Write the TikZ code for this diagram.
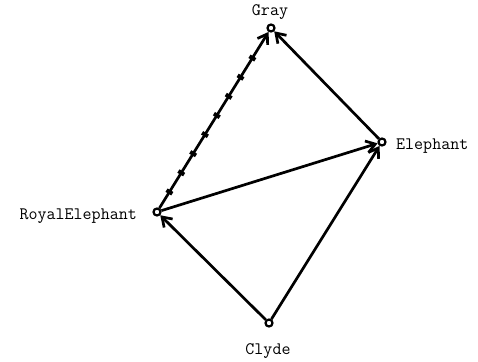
\documentclass[tikz,border=0pt]{standalone}
\usetikzlibrary{arrows.meta,decorations.markings}
\begin{document}
\begin{tikzpicture}[x=1pt,y=-1pt,
  vtx/.style={circle,draw,line width=2.2pt,inner sep=0pt,minimum size=7pt},
  lbl/.style={font=\fontsize{17.5}{20}\selectfont\ttfamily,inner sep=0pt},
  edge/.style={line width=2.7pt,-{Straight Barb[length=9pt,width=12pt]}},
  ticked/.style={postaction={decorate},decoration={markings,
    mark=between positions 19pt and 178pt step 22.5pt with {\draw[-,line width=4pt] (0pt,-3.4pt) -- (0pt,3.4pt);}}}
]
\useasboundingbox (0,0) rectangle (478,361);
\node[vtx] (gray) at (271,28) {};
\node[vtx] (ele) at (382,142) {};
\node[vtx] (roy) at (157,212) {};
\node[vtx] (cly) at (269,323) {};
\node[lbl] (tgray) at (270,12) {Gray};
\node[lbl,anchor=west] (tele) at (396,146) {Elephant};
\node[lbl,anchor=east] (troy) at (137,216) {RoyalElephant};
\node[lbl] (tcly) at (268,351) {Clyde};
\draw[edge,ticked] (roy) -- (gray);
\draw[edge] (ele) -- (gray);
\draw[edge] (roy) -- (ele);
\draw[edge] (cly) -- (roy);
\draw[edge] (cly) -- (ele);
\end{tikzpicture}
\end{document}
